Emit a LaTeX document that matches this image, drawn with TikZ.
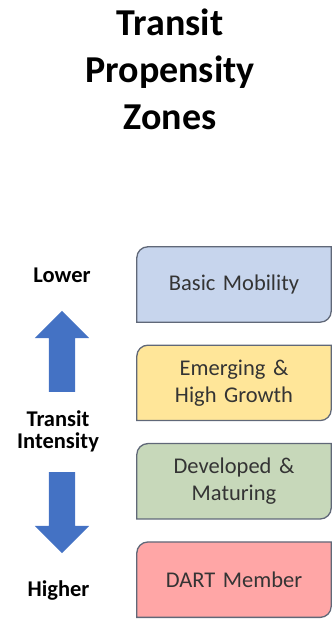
\documentclass[tikz,border=0pt]{standalone}
\usepackage{fontspec}
\setmainfont{Carlito}[WordSpace=0.85]
\usepackage{xcolor}
\usetikzlibrary{shapes.arrows,positioning,backgrounds}
\definecolor{arrblue}{RGB}{68,114,196}
\definecolor{zblue}{RGB}{199,213,237}
\definecolor{zyellow}{RGB}{255,230,153}
\definecolor{zgreen}{RGB}{199,216,186}
\definecolor{zred}{RGB}{255,166,166}
\definecolor{zedge}{RGB}{96,104,120}
\definecolor{ztext}{RGB}{52,52,52}
\tikzset{
  zbox/.style={rectangle, minimum width=194pt, minimum height=75pt, text width=180pt, align=center, font=\fontsize{22.5}{27}\selectfont, text=ztext, inner sep=0pt},
  zline/.style={draw=zedge, line width=1.3pt},
  sidelbl/.style={align=center, font=\bfseries\fontsize{22.5}{22}\selectfont, inner sep=0pt},
  intarrow/.style={single arrow, fill=arrblue, draw=none, minimum height=81pt, inner xsep=0pt, inner ysep=13pt, single arrow head extend=14pt}
}

\begin{document}
\begin{tikzpicture}[x=1pt, y=1pt, node distance=23pt]
\useasboundingbox (0,0) rectangle (334,620);
\node[font=\bfseries\fontsize{38}{47}\selectfont, align=center, inner sep=0pt] (title) at (170,551) {Transit\\Propensity\\Zones};
% zone boxes
\node[zbox] (basic) at (234,335.5) {Basic Mobility};
\node[zbox, below=of basic] (emerg) {Emerging \&\\High Growth};
\node[zbox, below=of emerg] (devel) {Developed \&\\Maturing};
\node[zbox, below=of devel] (dart) {DART Member};
\begin{scope}[on background layer]
\foreach \z/\c in {basic/zblue, emerg/zyellow, devel/zgreen, dart/zred}
  \filldraw[zline, fill=\c] ([xshift=11pt]\z.north west) -- (\z.north east) -- ([yshift=11pt]\z.south east)
    arc[start angle=0, end angle=-90, radius=11pt] -- (\z.south west) -- ([yshift=-11pt]\z.north west)
    arc[start angle=180, end angle=90, radius=11pt] -- cycle;
\end{scope}
% intensity scale
\node[sidelbl] (lower) at (62,345) {Lower};
\node[intarrow, rotate=90] (uparr) at (62,262) {};
\node[sidelbl] (intens) at (58,189) {Transit\\Intensity};
\node[intarrow, rotate=-90] (downarr) at (62,114) {};
\node[sidelbl] (higher) at (58.5,29) {Higher};
\end{tikzpicture}
\end{document}
